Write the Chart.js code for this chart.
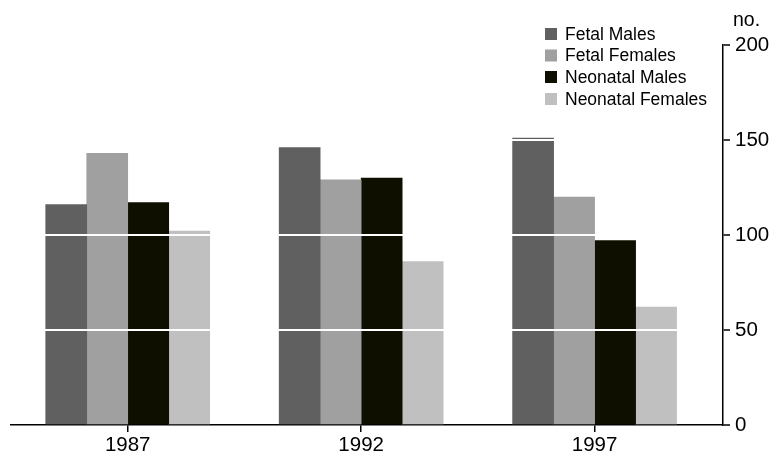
<!DOCTYPE html>
<html>
<head>
<meta charset="utf-8">
<script src="https://cdn.jsdelivr.net/npm/chart.js@4"></script>
<style>
  html, body { margin: 0; padding: 0; background: #fff; }
  #wrap { width: 774px; height: 452px; position: relative; }
</style>
</head>
<body>
<div id="wrap"><canvas id="c" width="774" height="452"></canvas></div>
<script>
const categories = ['1987', '1992', '1997'];
const seriesNames = ['Fetal Males', 'Fetal Females', 'Neonatal Males', 'Neonatal Females'];
const fetalMales = [116, 146, 151];
const fetalFemales = [143, 129, 120];
const neonatalMales = [117, 130, 97];
const neonatalFemales = [102, 86, 62];
const yTicks = [0, 50, 100, 150, 200];
const unitLabel = 'no.';

const colors = ['#606060', '#a0a0a0', '#0f0f00', '#c0c0c0'];
const seriesValues = [fetalMales, fetalFemales, neonatalMales, neonatalFemales];
const FONT = '"Liberation Sans", Arial, sans-serif';

const datasets = seriesValues.map((vals, s) => ({
  label: seriesNames[s],
  data: vals.map((v, i) => ({ x: i, y: v })),
  backgroundColor: colors[s],
  borderWidth: 0,
  barThickness: 41
}));

const overlay = {
  id: 'overlay',
  afterDraw(chart) {
    const ctx = chart.ctx;
    ctx.save();
    ctx.fillStyle = '#000';
    ctx.font = '19.5px ' + FONT;
    ctx.textAlign = 'left';
    ctx.textBaseline = 'middle';
    ctx.fillText(unitLabel, 733, 21);
    ctx.font = '17.5px ' + FONT;
    const rows = [34, 55.5, 77, 99];
    chart.data.datasets.forEach((ds, i) => {
      ctx.fillStyle = ds.backgroundColor;
      ctx.fillRect(545, rows[i] - 6, 12, 12);
      ctx.fillStyle = '#000';
      ctx.fillText(ds.label, 565, rows[i] + 1);
    });
    ctx.restore();
  }
};

new Chart(document.getElementById('c'), {
  type: 'bar',
  data: { datasets },
  plugins: [overlay],
  options: {
    responsive: false,
    animation: false,
    events: [],
    layout: { padding: { top: 45, left: 11, right: 0, bottom: 0 } },
    plugins: { legend: { display: false }, tooltip: { enabled: false } },
    scales: {
      x: {
        type: 'linear',
        offset: false,
        min: -0.5,
        max: 2.55,
        afterBuildTicks(scale) { scale.ticks = categories.map((_, i) => ({ value: i })); },
        afterFit(scale) { scale.height = 27; },
        grid: { offset: false, drawOnChartArea: false, drawTicks: true, tickLength: 7, tickColor: '#000', lineWidth: 1.5 },
        border: { display: true, color: '#000', width: 1.5 },
        ticks: {
          autoSkip: false,
          maxRotation: 0,
          padding: 1,
          color: '#000',
          font: { family: FONT, size: 20.5 },
          callback: (v) => categories[v] ?? ''
        }
      },
      y: {
        position: 'right',
        min: 0,
        max: 200,
        afterBuildTicks(scale) { scale.ticks = yTicks.map(v => ({ value: v })); },
        afterFit(scale) { scale.width = 51; },
        grid: {
          z: 1,
          color: (c) => (c.tick && c.tick.value === 0) ? 'rgba(0,0,0,0)' : '#ffffff',
          lineWidth: 2,
          tickColor: '#000',
          tickWidth: 1.5,
          tickLength: 7,
          drawTicks: true
        },
        border: { display: true, color: '#000', width: 1.5, z: 2 },
        ticks: {
          padding: 5,
          color: '#000',
          font: { family: FONT, size: 20.5 }
        }
      }
    }
  }
});
</script>
</body>
</html>
